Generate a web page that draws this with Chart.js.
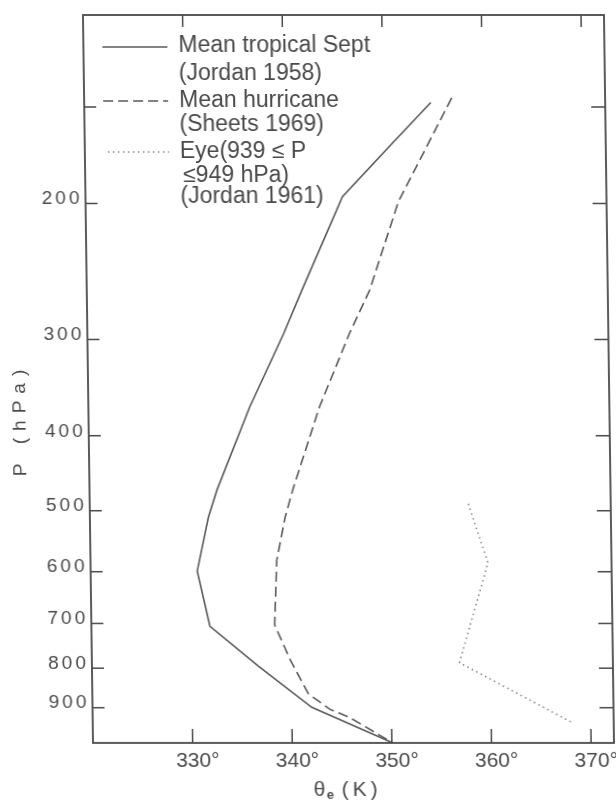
<!DOCTYPE html>
<html>
<head>
<meta charset="utf-8">
<title>Equivalent potential temperature profiles</title>
<script src="https://cdn.jsdelivr.net/npm/chart.js@4.4.1/dist/chart.umd.min.js"></script>
<style>
  html, body { margin: 0; padding: 0; background: #fff; }
  #wrap { width: 616px; height: 800px; }
  /* the scanned figure leans a little: its left edge drifts ~10px over the plot height */
  #chart { transform: skewX(0.79deg); transform-origin: 0 743px; }
</style>
</head>
<body>
<div id="wrap"><canvas id="chart" width="616" height="800"></canvas></div>
<script>
// Mean tropical Sept (Jordan 1958): pressure (hPa) and theta-e (K)
const tropicalP     = [148, 167, 196, 259, 295, 367, 470, 510, 599, 706, 795, 899, 1000];
const tropicalTheta = [354.8, 350.9, 345.8, 341.6, 339.7, 336.2, 332.8, 331.9, 330.7, 331.9, 336.7, 342.0, 350.1];

// Mean hurricane (Sheets 1969)
const hurricaneP     = [146, 199, 259, 295, 367, 470, 510, 580, 703, 780, 864, 904, 927, 1000];
const hurricaneTheta = [356.9, 351.4, 348.4, 346.3, 343.2, 340.4, 339.6, 338.7, 338.4, 339.9, 341.7, 343.8, 345.8, 350.1];

// Eye, 939 <= P <= 949 hPa (Jordan 1961)
const eyeP     = [490, 584, 608, 787, 942];
const eyeTheta = [358.0, 359.9, 359.5, 356.9, 368.2];

const xTicks      = [330, 340, 350, 360, 370];
const yTicks      = [150, 200, 300, 400, 500, 600, 700, 800, 900];
const yTickLabels = ['', '200', '300', '400', '500', '600', '700', '800', '900'];

const legendSolid  = ['Mean tropical Sept', '(Jordan 1958)'];
const legendDashed = ['Mean hurricane', '(Sheets 1969)'];
const legendDotted = ['Eye(939 \u2264 P', '\u2264949 hPa)', '(Jordan 1961)'];

const INK   = '#4a4a4a';
const LINE  = '#5a5a5a';
const FAINT = '#8a8a8a';
const FONT  = '"Liberation Sans", Arial, sans-serif';

const toPoints = (thetas, ps) => thetas.map((t, i) => ({ x: t, y: ps[i] }));

/**
 * Draws the frame, inward ticks, tick labels, axis titles and the
 * hand-lettered legend, all placed through the chart's own scales.
 */
const paperPlugin = {
    id: 'paper',
    afterDraw(chart) {
        const { ctx, chartArea: a, scales: { x, y } } = chart;
        ctx.save();

        // frame
        ctx.strokeStyle = INK;
        ctx.lineWidth = 1.8;
        ctx.strokeRect(a.left, a.top, a.right - a.left, a.bottom - a.top);

        // inward ticks on all four sides
        ctx.lineWidth = 1.5;
        ctx.beginPath();
        xTicks.forEach(v => {
            const px = x.getPixelForValue(v);
            ctx.moveTo(px, a.bottom); ctx.lineTo(px, a.bottom - 14);
            ctx.moveTo(px, a.top);    ctx.lineTo(px, a.top + 12);
        });
        yTicks.forEach(v => {
            const py = y.getPixelForValue(v);
            ctx.moveTo(a.left, py);  ctx.lineTo(a.left + 12, py);
            ctx.moveTo(a.right, py); ctx.lineTo(a.right - 14, py);
        });
        ctx.stroke();

        ctx.fillStyle = INK;

        // y tick labels
        ctx.font = `19px ${FONT}`;
        ctx.letterSpacing = '3px';
        ctx.textAlign = 'right';
        ctx.textBaseline = 'middle';
        yTicks.forEach((v, i) => {
            if (!yTickLabels[i]) return;
            ctx.fillText(yTickLabels[i], a.left - 3, y.getPixelForValue(v) - 4.5);
        });

        // x tick labels
        ctx.font = `21px ${FONT}`;
        ctx.letterSpacing = '0px';
        ctx.textAlign = 'center';
        ctx.textBaseline = 'alphabetic';
        xTicks.forEach(v => {
            ctx.fillText(`${v}\u00B0`, x.getPixelForValue(v) + 5, a.bottom + 24);
        });

        // x axis title: theta with subscript e
        ctx.textAlign = 'left';
        ctx.font = `21px ${FONT}`;
        ctx.fillText('\u03B8', 313, 796);
        ctx.font = `bold 13px ${FONT}`;
        ctx.fillText('e', 326, 799);
        ctx.font = `21px ${FONT}`;
        ctx.letterSpacing = '4px';
        ctx.fillText('(K)', 341, 796);

        // y axis title, rotated and widely spaced
        ctx.save();
        ctx.translate(25, 423);
        ctx.rotate(-Math.PI / 2);
        ctx.font = `19px ${FONT}`;
        ctx.letterSpacing = '7px';
        ctx.textAlign = 'center';
        ctx.textBaseline = 'middle';
        ctx.fillText('P (hPa)', 3.5, 0);
        ctx.restore();

        // legend
        const sx0 = a.left + 19, sx1 = a.left + 84, tx = a.left + 95;
        ctx.lineWidth = 1.6;
        ctx.strokeStyle = LINE;
        ctx.beginPath(); ctx.moveTo(sx0, 47); ctx.lineTo(sx1, 47); ctx.stroke();
        ctx.setLineDash([10, 5]);
        ctx.beginPath(); ctx.moveTo(sx0, 101); ctx.lineTo(sx1, 101); ctx.stroke();
        ctx.setLineDash([1.5, 3.5]);
        ctx.strokeStyle = FAINT;
        ctx.beginPath(); ctx.moveTo(sx0 + 4, 152); ctx.lineTo(sx1, 152); ctx.stroke();
        ctx.setLineDash([]);

        ctx.font = `23px ${FONT}`;
        ctx.letterSpacing = '0px';
        ctx.textAlign = 'left';
        ctx.textBaseline = 'middle';
        ctx.fillText(legendSolid[0], tx, 46);
        ctx.fillText(legendSolid[1], tx, 73.5);
        ctx.fillText(legendDashed[0], tx, 101);
        ctx.fillText(legendDashed[1], tx, 124.5);
        ctx.fillText(legendDotted[0], tx, 152);
        ctx.fillText(legendDotted[1], tx + 3, 176);
        ctx.fillText(legendDotted[2], tx, 197);

        ctx.restore();
    }
};

new Chart(document.getElementById('chart'), {
    type: 'scatter',
    data: {
        datasets: [{
            label: 'Mean tropical Sept (Jordan 1958)',
            data: toPoints(tropicalTheta, tropicalP),
            showLine: true,
            borderColor: LINE,
            borderWidth: 1.6,
            pointRadius: 0
        }, {
            label: 'Mean hurricane (Sheets 1969)',
            data: toPoints(hurricaneTheta, hurricaneP),
            showLine: true,
            borderColor: LINE,
            borderWidth: 1.6,
            borderDash: [10, 5],
            pointRadius: 0
        }, {
            label: 'Eye (Jordan 1961)',
            data: toPoints(eyeTheta, eyeP),
            showLine: true,
            borderColor: FAINT,
            borderWidth: 1.6,
            borderDash: [1.5, 3.5],
            pointRadius: 0
        }]
    },
    options: {
        responsive: false,
        animation: false,
        layout: { padding: { left: 93, top: 15, right: 2, bottom: 57 } },
        plugins: { legend: { display: false }, tooltip: { enabled: false } },
        scales: {
            x: { type: 'linear', display: false, bounds: 'data', min: 320, max: 372.3 },
            y: { type: 'logarithmic', display: false, bounds: 'data', reverse: true, min: 114, max: 1000 }
        }
    },
    plugins: [paperPlugin]
});
</script>
</body>
</html>
